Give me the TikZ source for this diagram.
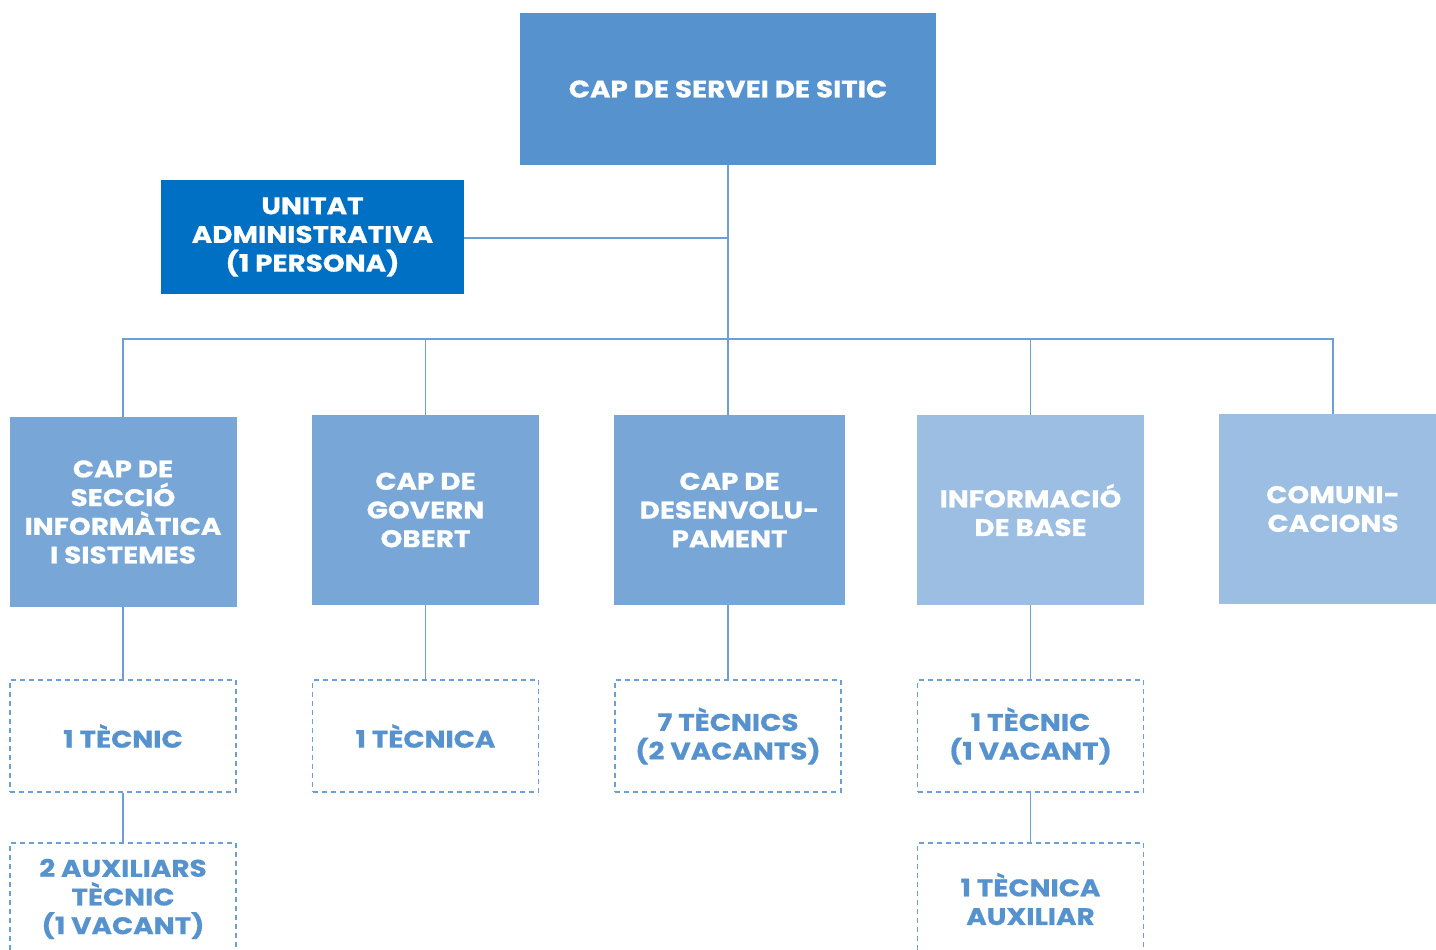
\documentclass[tikz,border=0pt]{standalone}
\usepackage{fontspec}
\setmainfont{Poppins}[FakeStretch=1.16, BoldFeatures={FakeStretch=1.16, FakeBold=0.6}]
\definecolor{topc}{HTML}{5592CE}
\definecolor{unitc}{HTML}{0070C4}
\definecolor{midc}{HTML}{78A7D7}
\definecolor{lightc}{HTML}{9BBEE2}
\definecolor{linec}{HTML}{6C9FD6}
\definecolor{dtext}{HTML}{5592CE}
\begin{document}
\begin{tikzpicture}[x=1pt,y=-1pt,
  boxtxt/.style={font=\fontsize{24}{28.7}\selectfont\bfseries, align=center, inner sep=0pt},
  filled/.style={boxtxt, text=white, draw=none},
  dashbox/.style={boxtxt, text=dtext, draw=linec, dashed, dash pattern=on 5pt off 4pt, line width=1.2pt, minimum width=226pt, minimum height=112pt},
  conn/.style={draw=linec, line width=1.3pt}]
\clip (0,0) rectangle (1436,950);
\fill[white] (0,0) rectangle (1436,950);
% top
\node[filled, fill=topc, minimum width=416pt, minimum height=152pt] (top) at (728,89) {CAP DE SERVEI DE SITIC};
\node[filled, fill=unitc, minimum width=303pt, minimum height=114pt] (unit) at (312.5,237) {UNITAT\\ADMINISTRATIVA\\(1 PERSONA)};
% row 2
\node[filled, fill=midc, minimum width=227pt, minimum height=190pt] (b1) at (123,512) {CAP DE\\SECCIÓ\\INFORMÀTICA\\I SISTEMES};
\node[filled, fill=midc, minimum width=227pt, minimum height=190pt] (b2) at (425.5,510) {CAP DE\\GOVERN\\OBERT};
\node[filled, fill=midc, minimum width=231pt, minimum height=190pt] (b3) at (729.5,510) {CAP DE\\DESENVOLU-\\PAMENT};
\node[filled, fill=lightc, minimum width=227pt, minimum height=190pt] (b4) at (1030.5,510) {INFORMACIÓ\\DE BASE};
\node[filled, fill=lightc, minimum width=228pt, minimum height=190pt] (b5) at (1333,509) {COMUNI-\\CACIONS};
% row 3
\node[dashbox] (d1) at (123,736) {1 TÈCNIC};
\node[dashbox] (d2) at (425.5,736) {1 TÈCNICA};
\node[dashbox] (d3) at (728,736) {7 TÈCNICS\\(2 VACANTS)};
\node[dashbox] (d4) at (1030.5,736) {1 TÈCNIC\\(1 VACANT)};
% row 4
\node[dashbox] (d5) at (123,899) {2 AUXILIARS\\TÈCNIC\\(1 VACANT)};
\node[dashbox] (d6) at (1030.5,899) {1 TÈCNICA\\AUXILIAR};
% connectors
\coordinate (bus) at (728,339);
\coordinate (ja) at (728,238);
\draw[conn] (top.south) -- (ja) -- (bus) -- (bus |- b3.north);
\draw[conn] (unit.east |- ja) -- (ja);
\draw[conn] (b1.north) -- (b1.north |- bus) -- (b5.north |- bus) -- (b5.north);
\draw[conn] (b2.north) -- (b2.north |- bus);
\draw[conn] (b4.north) -- (b4.north |- bus);
\draw[conn] (b1.south) -- (d1.north);
\draw[conn] (d1.south) -- (d5.north);
\draw[conn] (b2.south) -- (d2.north);
\draw[conn] (d3.north |- b3.south) -- (d3.north);
\draw[conn] (b4.south) -- (d4.north);
\draw[conn] (d4.south) -- (d6.north);
\end{tikzpicture}
\end{document}
